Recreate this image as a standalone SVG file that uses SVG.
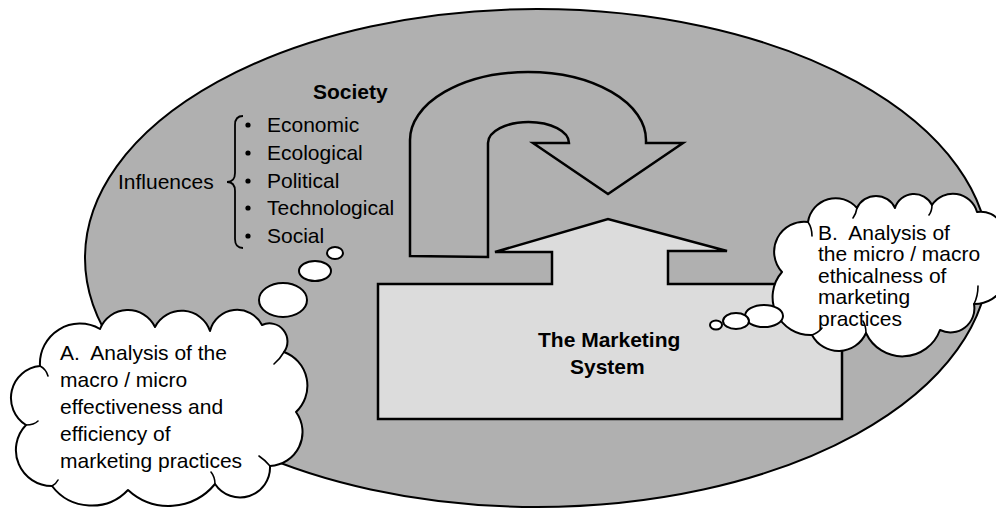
<svg xmlns="http://www.w3.org/2000/svg" width="996" height="509" viewBox="0 0 996 509">
  <style>
    text { font-family: "Liberation Sans", Arial, sans-serif; font-size: 21px; fill: #000; white-space: pre; }
    .bold { font-weight: bold; }
    .line { stroke: #000; stroke-linejoin: miter; }
    .society-fill { fill: #b0b0b0; }
    .system-fill { fill: #dcdcdc; }
    .cloud { fill: #fff; stroke: #000; stroke-width: 2; stroke-linejoin: round; }
    .tick { fill: none; stroke: #000; stroke-width: 1.6; stroke-linecap: round; }
  </style>

  <!-- Society: the surrounding environment -->
  <g id="society">
    <ellipse cx="537" cy="258" rx="452" ry="249" class="society-fill line" stroke-width="2"/>
    <text class="bold" x="313" y="99">Society</text>
  </g>

  <!-- Influences on the marketing system -->
  <g id="influences">
    <text x="118" y="189">Influences</text>
    <path d="M243,116 Q235,116 235,125 L235,173 Q235,182 227,182 Q235,182 235,191 L235,239 Q235,248 243,248" fill="none" stroke="#000" stroke-width="1.8"/>
    <g>
      <circle cx="248" cy="125" r="2.6"/>
      <circle cx="248" cy="153" r="2.6"/>
      <circle cx="248" cy="181" r="2.6"/>
      <circle cx="248" cy="208" r="2.6"/>
      <circle cx="248" cy="236" r="2.6"/>
    </g>
    <text x="267" y="132">Economic</text>
    <text x="267" y="160">Ecological</text>
    <text x="267" y="188">Political</text>
    <text x="267" y="215">Technological</text>
    <text x="267" y="243">Social</text>
  </g>

  <!-- The marketing system with its upward arrow into society -->
  <g id="marketing-system">
    <path d="M378,284 L552,284 L552,252 L495,252 L608,219 L727,251 L668,251 L668,284 L842,284 L842,419 L378,419 Z" class="system-fill line" stroke-width="2.5"/>
    <text class="bold" x="538" y="347">The Marketing</text>
    <text class="bold" x="570" y="374">System</text>
  </g>

  <!-- Feedback arrow from society back down to the marketing system -->
  <g id="connectors">
    <path d="M410,256 L410,140 A118,68 0 0 1 646,140 L646,143 L683,143 L608,194 L533,143 L569,143 A40.5,21 0 0 0 488,143 L488,257 Z" class="society-fill line" stroke-width="2.5"/>
  </g>

  <!-- Thought cloud A -->
  <g id="cloud-a">
    <path class="cloud" d="M40,366 A40,40 0 0 1 100,329 A30,30 0 0 1 155,327 A30,30 0 0 1 210,331 A28,28 0 0 1 262,325 A18,18 0 0 1 284,352 A36,36 0 0 1 296,412 A34,34 0 0 1 270,466 A30,30 0 0 1 215,484 A60,60 0 0 1 128,490 A50,50 0 0 1 52,486 A36,36 0 0 1 26,425 A32,32 0 0 1 40,366 Z"/>
    <path class="tick" d="M40,366 Q46,369 48,376 M26,425 Q34,425 38,421 M52,486 Q56,484 58,480 M215,484 Q215,477 211,472 M270,466 Q265,460 259,456 M284,352 Q280,359 274,364"/>
    <ellipse class="cloud" cx="283" cy="300" rx="24" ry="17"/>
    <ellipse class="cloud" cx="315" cy="271" rx="16" ry="10"/>
    <ellipse class="cloud" cx="335" cy="253" rx="8" ry="6"/>
    <text x="60" y="360">A.  Analysis of the</text>
    <text x="60" y="387">macro / micro</text>
    <text x="60" y="414">effectiveness and</text>
    <text x="60" y="441">efficiency of</text>
    <text x="60" y="468">marketing practices</text>
  </g>

  <!-- Thought cloud B -->
  <g id="cloud-b">
    <path class="cloud" d="M782,272 A30,30 0 0 1 808,222 A28,28 0 0 1 857,208 A21,21 0 0 1 895,208 A20,20 0 0 1 932,205 A25,25 0 0 1 977,212 A24,24 0 0 1 1000,250 A33,33 0 0 1 974,304 A24,24 0 0 1 940,330 A40,40 0 0 1 866,333 A30,30 0 0 1 812,335 A38,38 0 0 1 782,272 Z"/>
    <path class="tick" d="M808,222 Q812,228 812,236 M857,208 Q856,214 853,218 M932,205 Q932,211 929,215 M974,304 Q978,296 978,286 M866,333 Q866,326 863,321 M812,335 Q818,333 822,328"/>
    <ellipse class="cloud" cx="764" cy="316" rx="19" ry="11"/>
    <ellipse class="cloud" cx="736" cy="321" rx="13" ry="8"/>
    <ellipse class="cloud" cx="716" cy="325" rx="6" ry="4.5"/>
    <text x="818" y="240">B.  Analysis of</text>
    <text x="818" y="261">the micro / macro</text>
    <text x="818" y="283">ethicalness of</text>
    <text x="818" y="304">marketing</text>
    <text x="818" y="326">practices</text>
  </g>
</svg>
